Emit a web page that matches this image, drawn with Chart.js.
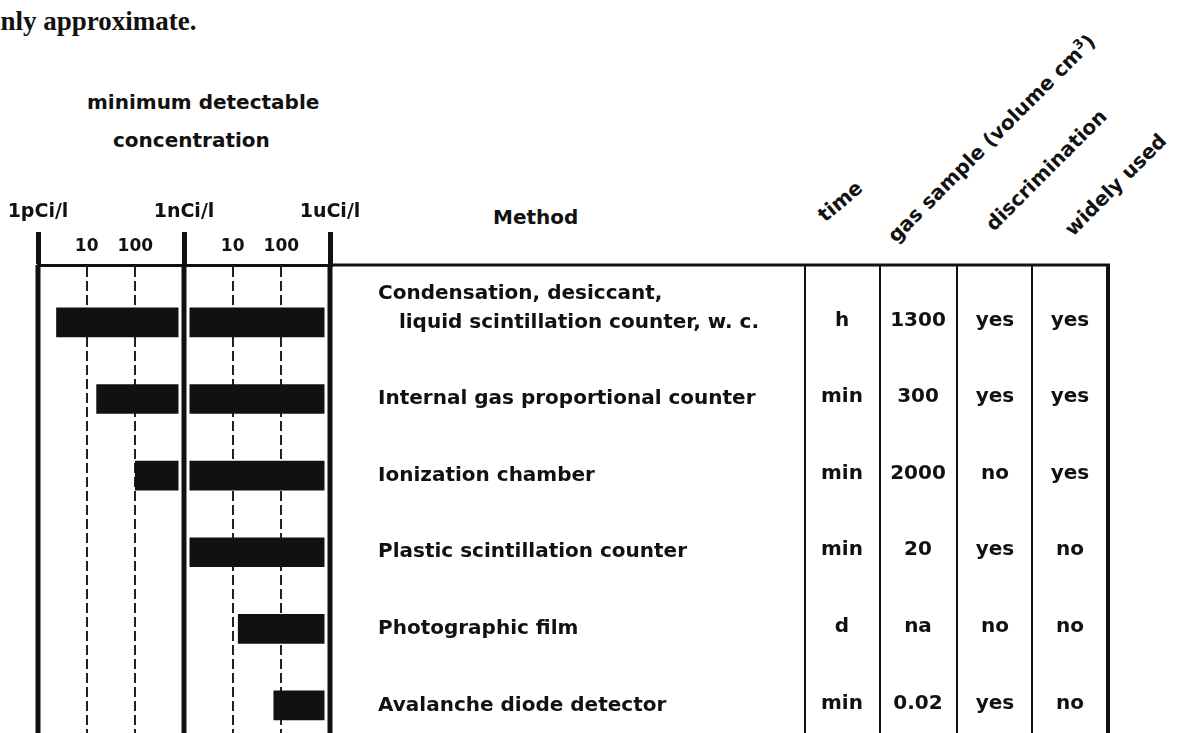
<!DOCTYPE html>
<html lang="en">
<head>
<meta charset="UTF-8">
<title>Tritium measurement methods</title>
<script src="https://cdn.jsdelivr.net/npm/chart.js"></script>
<style>
  html, body { margin: 0; padding: 0; background: #fff; overflow: hidden; }
  body { width: 1189px; height: 733px; position: relative; font-family: "DejaVu Sans", sans-serif; font-weight: bold; color: #111; }
  #chart { position: absolute; left: 0; top: 0; }
  .lbl { position: absolute; white-space: nowrap; font-size: 20px; line-height: 20px; }
  .caption { position: absolute; left: -13px; top: 8px; font-family: "Liberation Serif", serif; font-size: 27px; line-height: 27px; white-space: nowrap; }
  .rot { position: absolute; white-space: nowrap; font-size: 20px; line-height: 20px; transform-origin: 0 100%; transform: rotate(-45deg); }
  .rot sup { font-size: 13px; }
</style>
</head>
<body>
<div class="caption">only approximate.</div>
<div class="lbl" style="left:87px; top:92px;">minimum detectable</div>
<div class="lbl" style="left:113px; top:130px;">concentration</div>
<div class="lbl" style="left:493px; top:207px;">Method</div>
<div class="rot" style="left:827px; top:205px; transform: rotate(-40deg);">time</div>
<div class="rot" style="left:898px; top:221px;">gas sample (volume cm<sup>3</sup>)</div>
<div class="rot" style="left:996px; top:214px;">discrimination</div>
<div class="rot" style="left:1075px; top:219px;">widely used</div>
<canvas id="chart" width="1189" height="733"></canvas>
<script>
// methods (rows, top to bottom)
const methods = [
  ['Condensation, desiccant,', '   liquid scintillation counter, w. c.', ''],
  'Internal gas proportional counter',
  'Ionization chamber',
  'Plastic scintillation counter',
  'Photographic film',
  'Avalanche diode detector'
];
// minimum detectable concentration range, pCi/l
const minConc = [2.4, 16, 100, 1000, 13000, 70000];
const maxConc = [1e6, 1e6, 1e6, 1e6, 1e6, 1e6];

// concentration axis
const tickValues = [1, 10, 100, 1000, 1e4, 1e5, 1e6];
const tickLabels = [['1pCi/l', ''], ['', '10'], ['', '100'], ['1nCi/l', ''], ['', '10'], ['', '100'], ['1uCi/l', '']];
const decadeMarks = [1, 1000, 1e6];

// table columns
const times = ['h', 'min', 'min', 'min', 'd', 'min'];
const gasSample = ['1300', '300', '2000', '20', 'na', '0.02'];
const discrimination = ['yes', 'yes', 'no', 'yes', 'no', 'yes'];
const widelyUsed = ['yes', 'yes', 'yes', 'no', 'no', 'no'];

const INK = '#111';
const isDecade = ctx => ctx.tick && decadeMarks.includes(ctx.tick.value);

// thick decade lines cut through the bars, plus the table on the right
const tablePlugin = {
  id: 'tablePlugin',
  afterDatasetsDraw(chart) {
    const { ctx, chartArea, scales: { x } } = chart;
    ctx.save();
    decadeMarks.forEach(v => {
      const px = x.getPixelForValue(v);
      ctx.strokeStyle = '#fff';
      ctx.lineWidth = 11;
      ctx.beginPath(); ctx.moveTo(px, chartArea.top + 3); ctx.lineTo(px, chartArea.bottom); ctx.stroke();
      ctx.strokeStyle = INK;
      ctx.lineWidth = 5;
      ctx.beginPath(); ctx.moveTo(px, chartArea.top); ctx.lineTo(px, chartArea.bottom); ctx.stroke();
    });
    ctx.restore();
  },
  afterDraw(chart) {
    const { ctx, chartArea, scales: { y } } = chart;
    const top = chartArea.top, bottom = chartArea.bottom;
    const rightEdge = 1108;
    ctx.save();
    ctx.strokeStyle = INK;
    // top rule
    ctx.lineWidth = 3;
    ctx.beginPath(); ctx.moveTo(chartArea.right, top); ctx.lineTo(rightEdge + 2, top); ctx.stroke();
    // column rules
    ctx.lineWidth = 2;
    [805, 880, 957, 1032].forEach(cx => {
      ctx.beginPath(); ctx.moveTo(cx, top); ctx.lineTo(cx, bottom); ctx.stroke();
    });
    ctx.lineWidth = 4;
    ctx.beginPath(); ctx.moveTo(rightEdge, top); ctx.lineTo(rightEdge, bottom); ctx.stroke();
    // cells
    ctx.fillStyle = INK;
    ctx.font = 'bold 20px "DejaVu Sans"';
    ctx.textAlign = 'center';
    ctx.textBaseline = 'middle';
    const cols = [[842, times], [918, gasSample], [995, discrimination], [1070, widelyUsed]];
    methods.forEach((m, i) => {
      const py = y.getPixelForValue(i) - 2;
      cols.forEach(([cx, vals]) => ctx.fillText(vals[i], cx, py));
    });
    ctx.restore();
  }
};

new Chart(document.getElementById('chart'), {
  type: 'bar',
  data: {
    datasets: [{
      data: methods.map((m, i) => ({ x: [minConc[i], maxConc[i]], y: i })),
      backgroundColor: INK,
      borderWidth: 0,
      borderSkipped: false,
      barThickness: 29
    }]
  },
  options: {
    indexAxis: 'y',
    responsive: false,
    animation: false,
    layout: { padding: { left: 38, top: 190, right: 0, bottom: 0 } },
    plugins: { legend: { display: false }, tooltip: { enabled: false } },
    scales: {
      x: {
        type: 'logarithmic',
        position: 'top',
        min: 1,
        max: 1e6,
        afterBuildTicks: scale => { scale.ticks = tickValues.map(v => ({ value: v })); },
        afterFit: scale => { scale.height = 75; scale.paddingLeft = 0; scale.paddingRight = 0; },
        ticks: {
          autoSkip: false,
          maxRotation: 0,
          minRotation: 0,
          padding: -32.5,
          color: INK,
          font: ctx => ({ family: 'DejaVu Sans', weight: 'bold', size: isDecade(ctx) ? 19 : 17, lineHeight: '35px' }),
          callback: (value, index) => tickLabels[index]
        },
        grid: {
          drawTicks: true,
          tickLength: 33,
          color: ctx => isDecade(ctx) ? 'rgba(0,0,0,0)' : '#222',
          lineWidth: ctx => isDecade(ctx) ? 5 : 2,
          tickColor: ctx => isDecade(ctx) ? INK : 'rgba(0,0,0,0)',
          tickWidth: ctx => isDecade(ctx) ? 5 : 1
        },
        border: { display: true, color: INK, width: 3, dash: [10, 4] }
      },
      y: {
        type: 'linear',
        position: 'right',
        reverse: true,
        offset: false,
        min: -0.75,
        max: 5.36,
        afterBuildTicks: scale => { scale.ticks = methods.map((m, i) => ({ value: i })); },
        afterFit: scale => { scale.width = 859; scale.paddingTop = 0; scale.paddingBottom = 0; },
        ticks: {
          autoSkip: false,
          padding: 48,
          color: INK,
          font: { family: 'DejaVu Sans', weight: 'bold', size: 20, lineHeight: '29px' },
          callback: value => methods[value]
        },
        grid: { display: false, drawTicks: false, offset: false },
        border: { display: false }
      }
    }
  },
  plugins: [tablePlugin]
});
</script>
</body>
</html>
